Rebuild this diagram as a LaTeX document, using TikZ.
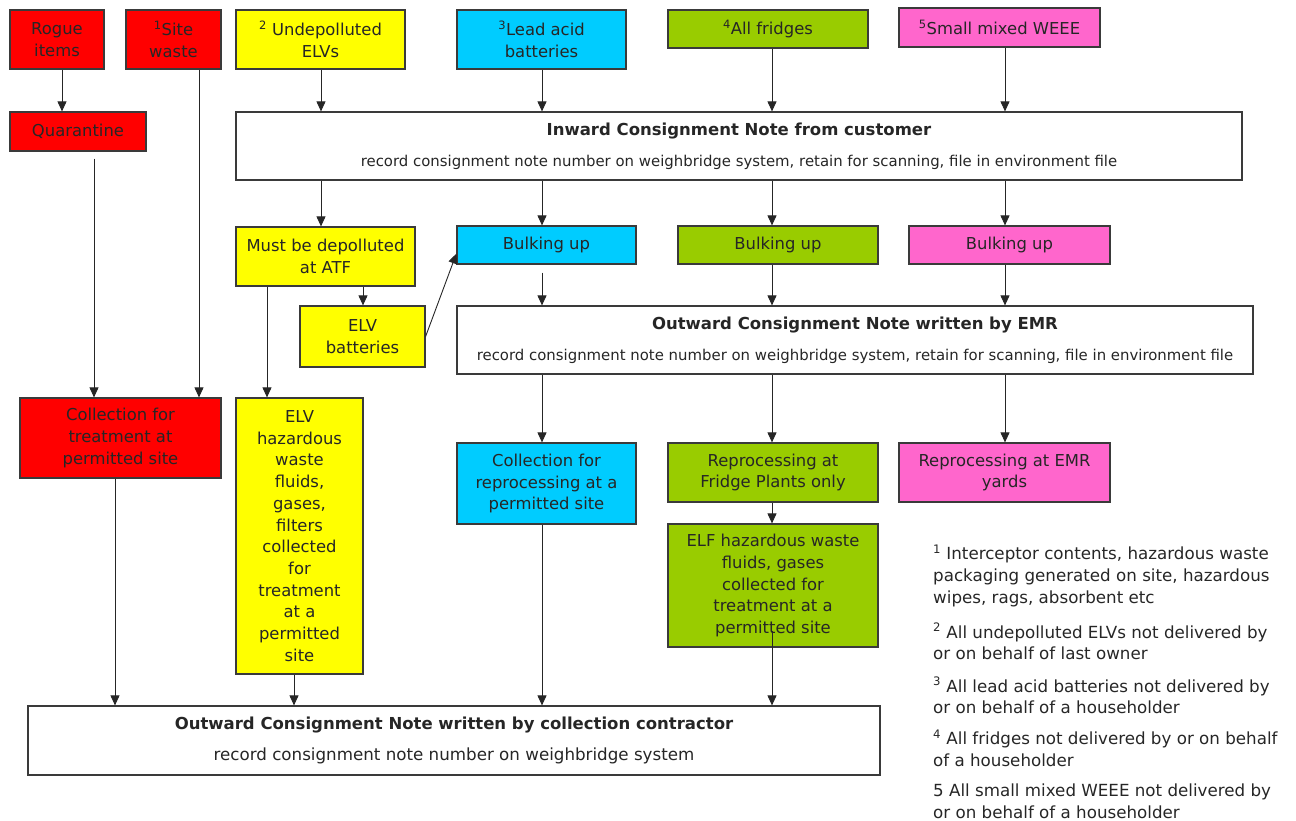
\documentclass[tikz,border=0pt]{standalone}
\usepackage{fontspec}
\setmainfont{DejaVu Sans}
\usetikzlibrary{arrows.meta}
\definecolor{emrred}{HTML}{FF0000}
\definecolor{emryellow}{HTML}{FFFF00}
\definecolor{emrcyan}{HTML}{00CCFF}
\definecolor{emrgreen}{HTML}{99CC00}
\definecolor{emrpink}{HTML}{FF66CC}
\definecolor{edge}{HTML}{3A3A3A}
\begin{document}
\begin{tikzpicture}[x=1pt,y=-1pt,
  box/.style={draw=edge,line width=1.2pt,align=center,inner sep=0pt,text=black!85,font=\fontsize{16.4}{21.7}\selectfont},
  note/.style={box,fill=white,font=\fontsize{16.5}{31}\selectfont},
  sz/.style 2 args={minimum width=#1pt,minimum height=#2pt},
  arr/.style={draw=black!85,line width=.9pt,-{Triangle[length=10pt,width=9pt]}},
  fn/.style={anchor=north west,align=left,inner sep=0pt,text=black!85,font=\fontsize{16.7}{21.7}\selectfont}]
\useasboundingbox (0,0) rectangle (1296,821);
% sources
\node[box,fill=emrred,sz={94}{59}] (rogue) at (57,39.5) {Rogue\\items};
\node[box,fill=emrred,sz={95}{59}] (site) at (173.5,39.5) {\textsuperscript{1}Site\\waste};
\node[box,fill=emryellow,sz={169}{59}] (elv) at (320.5,39.5) {\textsuperscript{2} Undepolluted\\ELVs};
\node[box,fill=emrcyan,sz={169}{59}] (lead) at (541.5,39.5) {\textsuperscript{3}Lead acid\\batteries};
\node[box,fill=emrgreen,sz={200}{38}] (fridge) at (768,29) {\textsuperscript{4}All fridges};
\node[box,fill=emrpink,sz={201}{39}] (weee) at (999.5,27.5) {\textsuperscript{5}Small mixed WEEE};
\node[box,fill=emrred,sz={136}{39}] (quar) at (78,131.5) {Quarantine};
\node[note,sz={1006}{68}] (inward) at (739,146) {\textbf{Inward Consignment Note from customer}\\{\fontsize{14.9}{31}\selectfont record consignment note number on weighbridge system, retain for scanning, file in environment file}};
% bulking
\node[box,fill=emryellow,sz={179}{59}] (must) at (325.5,256.5) {Must be depolluted\\at ATF};
\node[box,fill=emrcyan,sz={179}{38}] (bulkc) at (546.5,245) {Bulking up};
\node[box,fill=emrgreen,sz={200}{38}] (bulkg) at (778,245) {Bulking up};
\node[box,fill=emrpink,sz={201}{38}] (bulkm) at (1009.5,245) {Bulking up};
\node[box,fill=emryellow,sz={125}{61}] (elvbat) at (362.5,336.5) {ELV\\batteries};
\node[note,sz={796}{68}] (emr) at (855,340) {\textbf{Outward Consignment Note written by EMR}\\{\fontsize{14.9}{31}\selectfont record consignment note number on weighbridge system, retain for scanning, file in environment file}};
% collection
\node[box,fill=emrred,sz={201}{80}] (colred) at (120.5,438) {Collection for\\treatment at\\permitted site};
\node[box,fill=emryellow,sz={127}{276}] (elvhaz) at (299.5,536) {ELV\\hazardous\\waste\\fluids,\\gases,\\filters\\collected\\for\\treatment\\at a\\permitted\\site};
\node[box,fill=emrcyan,sz={179}{81}] (colcyan) at (546.5,483.5) {Collection for\\reprocessing at a\\permitted site};
\node[box,fill=emrgreen,sz={210}{59}] (repfr) at (773,472.5) {Reprocessing at\\Fridge Plants only};
\node[box,fill=emrpink,sz={211}{59}] (repemr) at (1004.5,472.5) {Reprocessing at EMR\\yards};
\node[box,fill=emrgreen,sz={210}{123}] (elf) at (773,585.5) {ELF hazardous waste\\fluids, gases\\collected for\\treatment at a\\permitted site};
\node[note,sz={852}{69}] (final) at (454,740.5) {\textbf{Outward Consignment Note written by collection contractor}\\{\fontsize{16.7}{32}\selectfont record consignment note number on weighbridge system}};
% footnotes
\node[fn] (fn1) at (933,545) {\textsuperscript{1} Interceptor contents, hazardous waste\\packaging generated on site, hazardous\\wipes, rags, absorbent etc};
\node[fn] (fn2) at (933,623) {\textsuperscript{2} All undepolluted ELVs not delivered by\\or on behalf of last owner};
\node[fn] (fn3) at (933,677) {\textsuperscript{3} All lead acid batteries not delivered by\\or on behalf of a householder};
\node[fn] (fn4) at (933,730) {\textsuperscript{4} All fridges not delivered by or on behalf\\of a householder};
\node[fn] (fn5) at (933,784) {5 All small mixed WEEE not delivered by\\or on behalf of a householder};
% arrows
\foreach \x/\a/\b in {62/rogue/quar,321/elv/inward,542/lead/inward,772/fridge/inward,1005/weee/inward,
  321/inward/must,542/inward/bulkc,772/inward/bulkg,1005/inward/bulkm,363/must/elvbat,
  772/bulkg/emr,1005/bulkm/emr,542/emr/colcyan,772/emr/repfr,1005/emr/repemr,772/repfr/elf,
  199/site/colred,267/must/elvhaz,115/colred/final,294/elvhaz/final,542/colcyan/final}
  \draw[arr] (\a.south -| \x,0) -- (\b.north -| \x,0);
\draw[arr] (quar.south -| 94,0) ++(0,7) -- (colred.north -| 94,0);
\draw[arr] (bulkc.south -| 542,0) ++(0,8) -- (emr.north -| 542,0);
\draw[arr] (elf.south -| 772,0) ++(0,-17) -- (final.north -| 772,0);
\draw[arr] (elvbat.east) -- ([yshift=11pt]bulkc.south west);
\end{tikzpicture}
\end{document}
